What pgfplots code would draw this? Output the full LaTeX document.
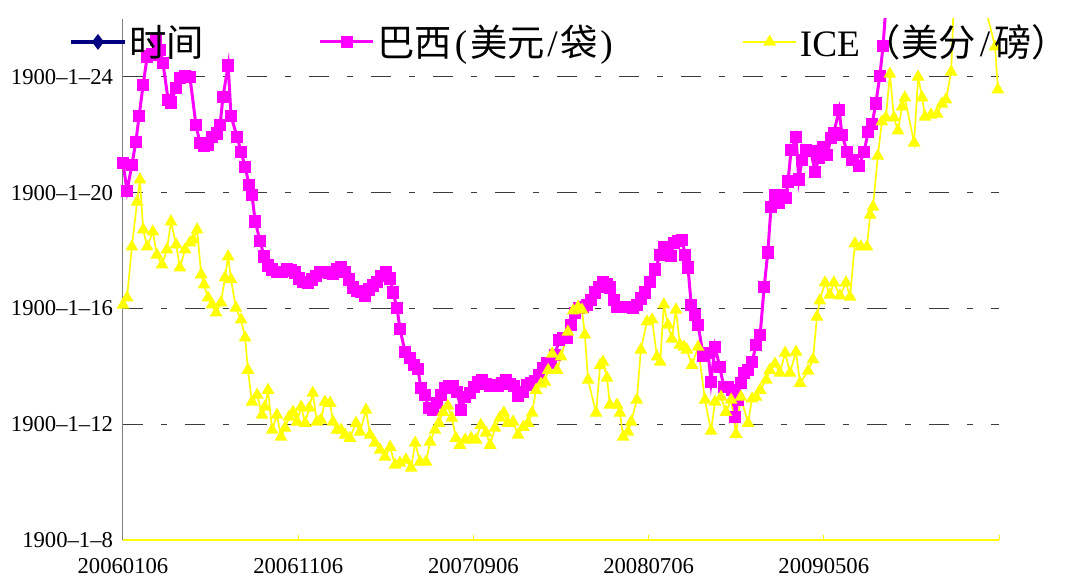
\documentclass[border=0pt]{standalone}
\usepackage{fontspec}
\setmainfont{Liberation Serif}
\newfontfamily\cjk{Noto Sans CJK SC}
\usepackage{pgfplots}
\pgfplotsset{compat=1.18}
\definecolor{navyc}{RGB}{0,0,128}
\definecolor{mag}{RGB}{255,0,255}
\definecolor{yel}{RGB}{255,255,0}
\definecolor{gridc}{RGB}{60,60,60}
\begin{document}
\begin{tikzpicture}
\begin{axis}[
  scale only axis, width=657pt, height=390.75pt,
  xmin=0, xmax=217.37, ymin=8, ymax=26,
  axis x line*=bottom, axis y line*=left,
  x axis line style={yel, line width=1pt, -},
  y axis line style={gray, line width=0.75pt, -},
  xtick={0,43.47,86.95,130.42,173.9,217.37},
  xticklabels={20060106,20061106,20070906,20080706,20090506,{}},
  xtick style={yel, line width=0.75pt},
  ytick={12,16,20,24},
  yticklabels={1900--1--12,1900--1--16,1900--1--20,1900--1--24},
  extra y ticks={8}, extra y tick labels={1900--1--8},
  extra y tick style={grid=none},
  ymajorgrids,
  major grid style={gridc, line width=0.75pt, dash pattern=on 15pt off 13.5pt on 4.5pt off 13.5pt},
  ytick style={draw=none},
  tick align=inside, major tick length=4pt,
  ticklabel style={font=\fontsize{17}{20}\selectfont, text=black},
  xticklabel style={yshift=-10.5pt},
  yticklabel style={xshift=-4pt},
  legend columns=3,
  legend style={at={(-0.0662,0.956)}, anchor=west, draw=none, fill=none,
    font=\fontsize{28}{32}\selectfont,
    /tikz/every even column/.append style={column sep=84pt}},
  legend image code/.code={\draw[mark repeat=2,mark phase=2] plot coordinates {(0pt,0pt) (20pt,0pt) (40pt,0pt)};},
]
\addlegendimage{navyc, line width=3pt, mark=diamond*, mark size=3.5pt}
\addlegendentry{{\cjk 时间}}
\addplot[mag, line width=2.25pt, mark=square*, mark size=3.5pt] coordinates {
(0,21.03) (1.0,20.06) (2.2,20.96) (3.2,21.76) (4.0,22.65) (5.0,23.73) (6.0,24.70) (7.2,24.77)
(8.2,25.28) (9.2,24.94) (9.9,24.49) (11.2,23.21) (11.9,23.11) (13.2,23.62) (14.1,23.97) (15.4,24.04)
(16.6,24.00) (18.1,22.34) (19.1,21.72) (20.1,21.61) (21.1,21.65) (22.1,21.93) (23.3,22.04) (24.1,22.34)
(24.8,23.31) (26.1,24.39) (26.8,22.65) (28.3,21.93) (29.3,21.41) (30.3,20.89) (31.3,20.27) (32.0,19.93)
(32.8,19.00) (34.0,18.34) (35.0,17.79) (36.0,17.48) (37.0,17.34) (38.2,17.27) (39.5,17.27) (40.7,17.34)
(41.7,17.31) (42.7,17.24) (43.7,17.03) (44.7,16.92) (45.9,16.89) (46.9,17.00) (47.9,17.13) (48.9,17.27)
(50.1,17.27) (51.1,17.24) (52.1,17.20) (53.1,17.34) (54.1,17.41) (55.1,17.27) (56.1,17.00) (57.1,16.72)
(58.1,16.61) (59.1,16.58) (60.0,16.44) (61.0,16.65) (62.0,16.79) (63.0,16.92) (64.0,17.13) (65.3,17.24)
(66.3,17.03) (67.0,16.55) (68.0,16.02) (68.7,15.30) (70.0,14.50) (71.2,14.29) (72.2,14.04) (73.2,13.91)
(73.9,13.25) (74.9,13.01) (75.9,12.56) (76.9,12.49) (77.9,12.73) (78.9,13.01) (79.9,13.25) (80.9,13.32)
(81.9,13.32) (82.9,13.11) (83.9,12.49) (84.9,12.94) (86.1,13.08) (87.1,13.28) (88.1,13.46) (89.1,13.53)
(90.1,13.39) (91.1,13.32) (92.1,13.35) (93.1,13.32) (94.0,13.42) (95.0,13.53) (96.0,13.39) (97.0,13.32)
(98.0,12.98) (99.3,13.11) (100.2,13.35) (101.2,13.42) (102.2,13.49) (103.2,13.70) (104.2,13.94) (105.2,14.11)
(106.2,14.11) (107.2,14.39) (108.2,14.91) (109.2,14.99) (110.2,14.99) (111.2,15.43) (112.2,15.85) (113.2,16.02)
(114.1,16.05) (115.1,16.13) (116.1,16.30) (117.1,16.55) (118.1,16.75) (119.1,16.92) (120.1,16.85) (120.8,16.72)
(121.8,16.30) (122.6,16.05) (123.6,16.05) (124.6,16.05) (125.6,16.05) (126.6,16.02) (127.5,16.13) (128.5,16.34)
(129.5,16.55) (130.8,16.92) (132.0,17.34) (133.3,17.85) (134.2,18.13) (135.2,18.03) (136.0,17.82) (136.7,18.27)
(137.7,18.34) (138.7,18.37) (139.5,17.85) (140.2,17.41) (141.0,16.13) (142.0,15.78) (142.7,15.43) (144.0,14.36)
(145.2,14.46) (145.9,13.46) (146.9,14.67) (148.1,13.97) (149.1,13.28) (150.1,13.28) (151.1,13.18) (151.9,12.25)
(152.6,12.84) (153.3,13.42) (154.1,13.77) (155.1,13.87) (156.1,14.15) (157.1,14.74) (158.1,15.09) (159.1,16.75)
(160.0,17.93) (160.8,19.51) (161.8,19.93) (162.8,19.65) (163.8,19.93) (164.5,19.82) (165.0,20.38) (165.8,21.48)
(167.0,21.93) (167.7,20.45) (168.5,21.14) (169.5,21.48) (170.7,21.44) (171.7,20.72) (172.7,21.20) (173.7,21.58)
(174.7,21.31) (175.7,21.89) (176.4,22.07) (177.7,22.86) (178.4,22.00) (179.7,21.41) (181.0,21.14) (182.6,20.93)
(183.9,21.41) (184.9,22.10) (185.9,22.38) (186.8,23.08) (187.8,24.04) (188.6,25.07) (189.6,27.00)
};
\addlegendentry{{\cjk 巴西}\hspace{2pt}(\hspace{2pt}{\cjk 美元}\hspace{2pt}/\hspace{2pt}{\cjk 袋}\hspace{2pt})\kern11pt\null}
\addplot[yel, line width=1.25pt, mark=triangle*, mark size=4.3pt] coordinates {
(0,16.12) (1.0,16.37) (2.2,18.13) (3.5,19.68) (4.2,20.45) (5.0,18.72) (6.0,18.13) (7.4,18.65)
(8.4,17.85) (9.7,17.51) (10.9,18.03) (11.9,19.00) (13.2,18.20) (14.1,17.41) (15.4,18.03) (16.6,18.27)
(17.4,18.37) (18.4,18.72) (19.4,17.17) (20.1,16.82) (21.1,16.37) (22.1,16.13) (23.1,15.85) (24.3,16.20)
(25.3,17.06) (26.1,17.79) (26.8,17.00) (28.0,16.02) (29.3,15.61) (30.3,14.99) (31.0,13.87) (32.0,12.77)
(33.3,13.01) (34.5,12.32) (35.2,12.60) (36.0,13.18) (37.0,11.80) (38.2,12.32) (39.2,11.56) (40.2,11.87)
(41.2,12.25) (42.2,12.42) (43.2,12.08) (44.2,12.60) (45.2,12.04) (46.2,12.56) (47.1,13.08) (48.1,12.08)
(49.1,12.15) (50.1,12.77) (51.4,12.73) (52.1,12.08) (53.1,11.80) (54.1,11.80) (55.1,11.63) (56.3,11.52)
(57.8,12.04) (58.8,11.73) (60.3,12.49) (61.3,11.63) (62.5,11.35) (63.8,11.11) (65.0,10.87) (66.3,11.21)
(67.5,10.59) (68.7,10.66) (70.2,10.77) (71.5,10.49) (72.5,11.35) (73.7,10.70) (75.2,10.70) (76.2,11.39)
(77.4,11.80) (78.4,12.04) (79.4,12.42) (80.6,12.63) (81.6,12.22) (82.6,11.52) (83.6,11.28) (84.9,11.46)
(86.4,11.52) (87.6,11.46) (88.8,11.97) (90.1,11.70) (91.1,11.28) (92.3,11.87) (93.5,12.22) (94.5,12.39)
(95.5,12.04) (96.8,12.08) (98.0,11.63) (99.3,11.90) (100.5,12.04) (101.5,12.39) (102.5,13.18) (103.7,13.39)
(104.7,13.46) (105.5,13.87) (106.5,14.43) (107.7,13.87) (108.7,14.33) (110.4,15.19) (111.7,15.92) (112.9,16.05)
(113.9,15.95) (114.6,15.09) (115.4,13.53) (117.4,12.39) (118.4,14.04) (119.1,14.15) (120.1,13.60) (120.8,12.67)
(122.6,12.67) (123.3,12.39) (124.1,11.56) (125.3,11.73) (126.1,12.08) (127.5,12.84) (128.5,14.57) (130.0,15.54)
(131.3,15.61) (132.5,14.33) (133.3,14.15) (134.2,16.13) (135.2,15.43) (136.2,14.95) (137.2,15.95) (138.2,14.74)
(139.2,14.67) (139.9,14.57) (141.2,14.04) (142.7,14.67) (144.4,12.84) (145.9,11.77) (146.9,12.77) (148.4,12.94)
(149.6,12.42) (150.9,12.84) (152.1,11.66) (153.3,12.94) (155.1,12.04) (156.1,12.88) (157.1,12.94) (158.1,13.18)
(159.6,13.53) (160.5,13.87) (161.8,14.08) (163.0,13.77) (164.3,14.46) (165.5,13.77) (167.0,14.50) (168.0,13.42)
(170.0,13.84) (171.2,14.23) (172.2,15.71) (172.9,16.27) (174.2,16.89) (175.4,16.47) (176.4,16.89) (177.9,16.44)
(179.4,16.89) (180.4,16.40) (181.6,18.24) (183.1,18.13) (184.6,18.13) (185.4,19.23) (186.1,19.51) (187.3,21.27)
(188.3,22.45) (189.3,22.59) (190.3,24.10) (191.3,22.59) (192.3,22.14) (193.3,22.97) (194.0,23.28) (196.3,21.72)
(197.3,24.00) (198.3,23.28) (199.0,22.62) (200.5,22.69) (202.0,22.72) (203.2,23.07) (204.2,23.21) (205.5,24.17)
(206.5,27.90) (213.4,26.74) (216.4,25.04) (217.1,23.56)
};
\addlegendentry{ICE\hspace{3pt}{\cjk （美分}\hspace{3pt}/\hspace{3pt}{\cjk 磅）}\kern-12pt\null}
\end{axis}
\pgfresetboundingbox
\path (-92.25pt,-28.5pt) rectangle (708pt,405pt);
\end{tikzpicture}
\end{document}
